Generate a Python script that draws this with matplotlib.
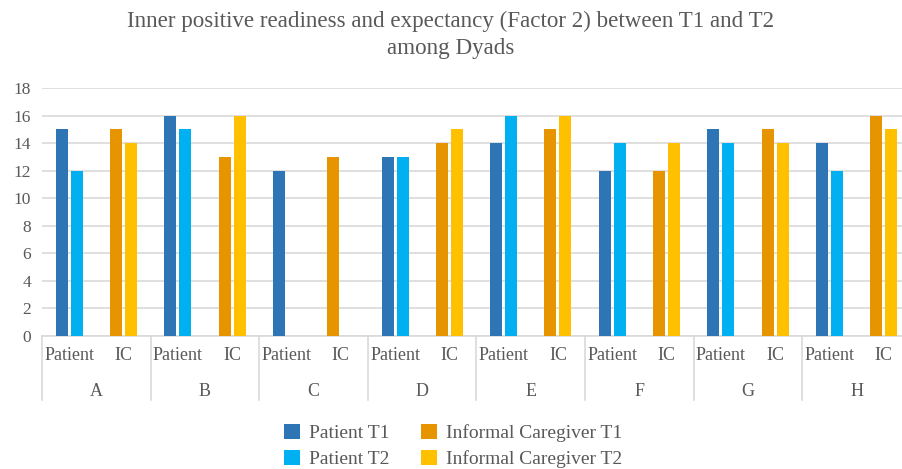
import matplotlib
matplotlib.use("Agg")
import matplotlib.pyplot as plt
import matplotlib.transforms as mtransforms
import numpy as np

title = "Inner positive readiness and expectancy (Factor 2) between T1 and T2\namong Dyads"
groups = ["A", "B", "C", "D", "E", "F", "G", "H"]
subgroups = ["Patient", "IC"]
patient_t1 = [15, 16, 12, 13, 14, 12, 15, 14]
patient_t2 = [12, 15, np.nan, 13, 16, 14, 14, 12]
ic_t1 = [15, 13, 13, 14, 15, 12, 15, 16]
ic_t2 = [14, 16, np.nan, 15, 16, 14, 14, 15]
series_labels = ["Patient T1", "Patient T2", "Informal Caregiver T1", "Informal Caregiver T2"]
yticks = [0, 2, 4, 6, 8, 10, 12, 14, 16, 18]

colors = ["#2E75B6", "#00B0F0", "#E69500", "#FFC000"]
txt = "#595959"
grid = "#D9D9D9"

plt.rcParams['font.family'] = ['Liberation Serif', 'DejaVu Serif']

fig = plt.figure(figsize=(9.03, 4.69), dpi=100)
ax = fig.add_axes([42/903, 1-336/469, (911-42)/903, (336-88)/469])

n = len(groups)
pat_x = np.arange(n) * 2 + 0.5
ic_x = np.arange(n) * 2 + 1.5
w = 0.22
off = 0.138

h1 = ax.bar(pat_x - off, patient_t1, w, color=colors[0], label=series_labels[0], zorder=3)
h2 = ax.bar(pat_x + off, patient_t2, w, color=colors[1], label=series_labels[1], zorder=3)
h3 = ax.bar(ic_x - off, ic_t1, w, color=colors[2], label=series_labels[2], zorder=3)
h4 = ax.bar(ic_x + off, ic_t2, w, color=colors[3], label=series_labels[3], zorder=3)

ax.set_xlim(0, 2 * n)
ax.set_ylim(0, 18)
ax.set_yticks(yticks)
ax.yaxis.grid(True, color=grid, linewidth=1.2, zorder=0)
ax.set_axisbelow(True)
for s in ["top", "right", "left"]:
    ax.spines[s].set_visible(False)
ax.spines["bottom"].set_color(grid)
ax.spines["bottom"].set_linewidth(1.2)
ax.tick_params(axis="y", length=0, labelsize=12.5, labelcolor=txt, pad=8)
ax.set_xticks([])

trans = mtransforms.blended_transform_factory(ax.transData, ax.transAxes)
for i in range(n):
    ax.text(pat_x[i], -0.077, subgroups[0], transform=trans, ha="center", va="center",
            fontsize=13, color=txt)
    ax.text(ic_x[i], -0.077, subgroups[1], transform=trans, ha="center", va="center",
            fontsize=13, color=txt)
    ax.text(2 * i + 1, -0.222, groups[i], transform=trans, ha="center", va="center",
            fontsize=13, color=txt)
for b in range(n + 1):
    ax.plot([2 * b, 2 * b], [0, -0.258], transform=trans, color=grid, linewidth=1.2,
            clip_on=False)

fig.text(451/903, 1 - 35/469, title, ha="center", va="center", fontsize=16.6, color=txt,
         linespacing=1.4)

fig.legend(handles=[h1, h2, h3, h4], labels=series_labels, ncol=2,
           loc="center", bbox_to_anchor=(453/903, 1 - 446/469), frameon=False,
           fontsize=14, handlelength=0.85, handleheight=0.85, handletextpad=0.45,
           columnspacing=1.6, labelspacing=0.4, labelcolor=txt)

fig.savefig("out.png", dpi=100)
